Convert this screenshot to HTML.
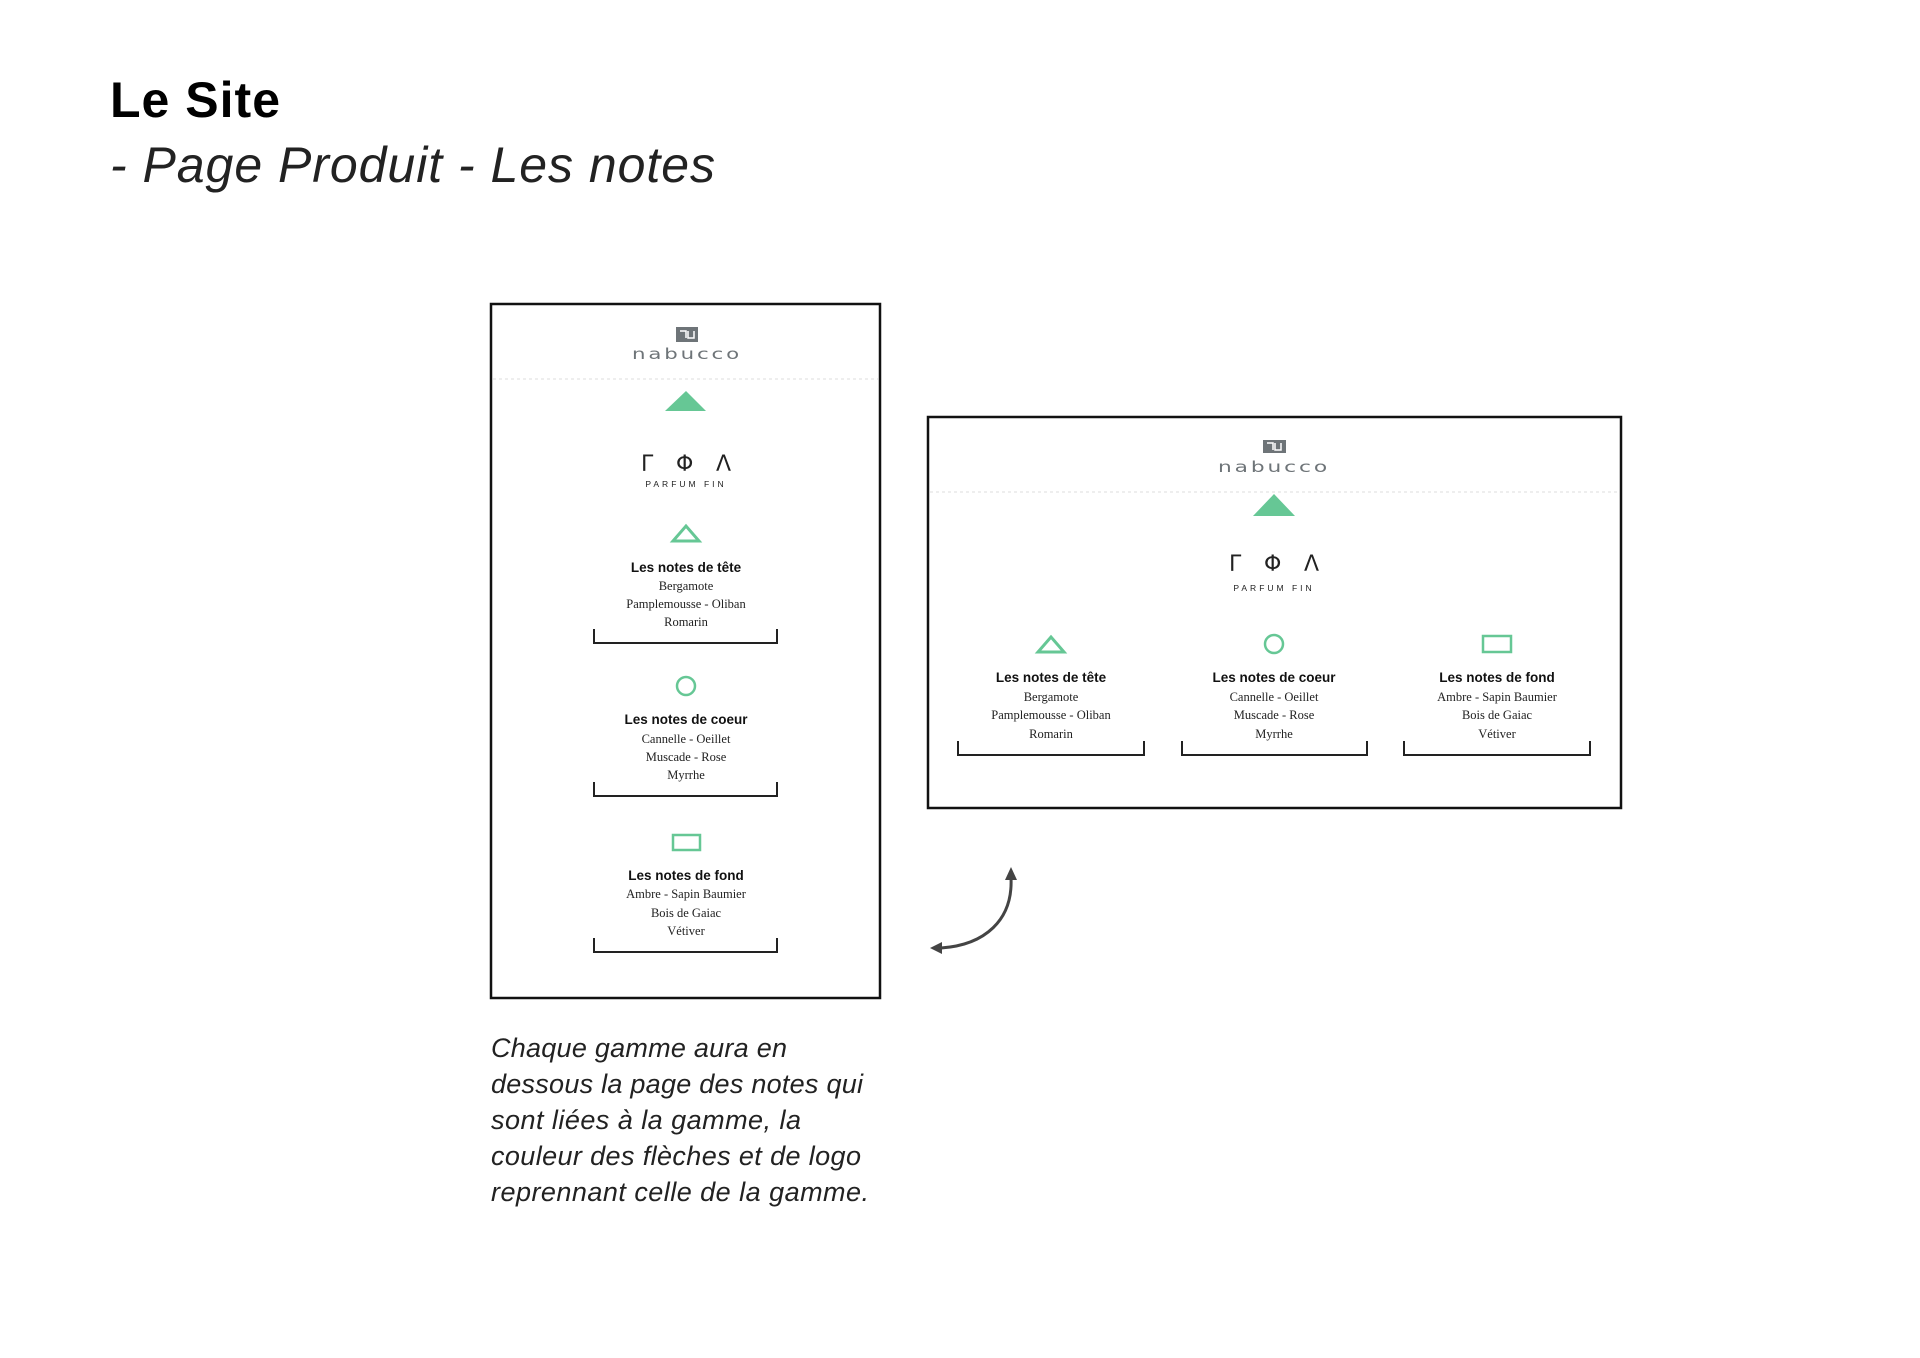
<!DOCTYPE html>
<html><head><meta charset="utf-8"><style>
html,body{margin:0;padding:0;background:#fff}
svg{display:block}
.ser{font-family:"Liberation Serif",serif;font-size:12.5px;fill:#222}
.tt{font-family:"Liberation Sans",sans-serif;font-weight:bold;font-size:13.5px;fill:#111}
.pf{font-family:"Liberation Sans",sans-serif;font-size:8.5px;letter-spacing:3px;fill:#222}
.gr{font-family:"DejaVu Sans",sans-serif;font-size:22px;fill:#222}
.nb{font-family:"DejaVu Sans",sans-serif;font-size:15px;fill:#6e7478;letter-spacing:2px}
.it{font-family:"Liberation Sans",sans-serif;font-style:italic;font-size:27px;fill:#222}
</style></head><body>
<svg width="1920" height="1358" viewBox="0 0 1920 1358" xmlns="http://www.w3.org/2000/svg">
<text x="110" y="117" font-family="Liberation Sans, sans-serif" font-weight="bold" font-size="50" fill="#000" textLength="170">Le Site</text>
<text x="110" y="182" font-family="Liberation Sans, sans-serif" font-style="italic" font-size="50" fill="#222" textLength="605">- Page Produit - Les notes</text>

<!-- LEFT BOX -->
<rect x="491" y="304" width="389" height="694" fill="#fff" stroke="#111" stroke-width="2.5"/>
<line x1="493" y1="379" x2="878" y2="379" stroke="#ddd" stroke-dasharray="3,3"/>
<rect x="676" y="327" width="22" height="15" fill="#6e7478"/>
<path d="M680,331 h6 v7 M688,331 v7 h6 v-7" fill="none" stroke="#fff" stroke-width="1.5"/>
<text x="687" y="359" class="nb" text-anchor="middle" textLength="110" lengthAdjust="spacingAndGlyphs">nabucco</text>
<polygon points="665,411 706,411 686,391" fill="#66c795"/>
<text x="686" y="471" class="gr" text-anchor="middle" textLength="90" lengthAdjust="spacing">Γ Φ Λ</text>
<text x="686" y="487" class="pf" text-anchor="middle">PARFUM FIN</text>

<polygon points="673,541 699,541 686,526" fill="none" stroke="#66c795" stroke-width="3"/>
<text x="686" y="572" class="tt" text-anchor="middle">Les notes de tête</text>
<text x="686" y="590" class="ser" text-anchor="middle">Bergamote</text>
<text x="686" y="608" class="ser" text-anchor="middle">Pamplemousse - Oliban</text>
<text x="686" y="626" class="ser" text-anchor="middle">Romarin</text>
<polyline points="594,629 594,643 777,643 777,629" fill="none" stroke="#222" stroke-width="2"/>

<circle cx="686" cy="686" r="9" fill="none" stroke="#66c795" stroke-width="2.5"/>
<text x="686" y="724" class="tt" text-anchor="middle">Les notes de coeur</text>
<text x="686" y="743" class="ser" text-anchor="middle">Cannelle - Oeillet</text>
<text x="686" y="761" class="ser" text-anchor="middle">Muscade - Rose</text>
<text x="686" y="779" class="ser" text-anchor="middle">Myrrhe</text>
<polyline points="594,782 594,796 777,796 777,782" fill="none" stroke="#222" stroke-width="2"/>

<rect x="673" y="835" width="27" height="15" fill="none" stroke="#66c795" stroke-width="2.5"/>
<text x="686" y="880" class="tt" text-anchor="middle">Les notes de fond</text>
<text x="686" y="898" class="ser" text-anchor="middle">Ambre - Sapin Baumier</text>
<text x="686" y="917" class="ser" text-anchor="middle">Bois de Gaiac</text>
<text x="686" y="935" class="ser" text-anchor="middle">Vétiver</text>
<polyline points="594,938 594,952 777,952 777,938" fill="none" stroke="#222" stroke-width="2"/>

<!-- RIGHT BOX -->
<rect x="928" y="417" width="693" height="391" fill="#fff" stroke="#111" stroke-width="2.5"/>
<line x1="930" y1="492" x2="1619" y2="492" stroke="#ddd" stroke-dasharray="3,3"/>
<rect x="1263" y="440" width="23" height="13" fill="#6e7478"/>
<path d="M1267,443 h6 v7 M1275,443 v7 h6 v-7" fill="none" stroke="#fff" stroke-width="1.5"/>
<text x="1274" y="472" class="nb" text-anchor="middle" textLength="112" lengthAdjust="spacingAndGlyphs">nabucco</text>
<polygon points="1253,516 1295,516 1274,494" fill="#66c795"/>
<text x="1274" y="571" class="gr" text-anchor="middle" textLength="90" lengthAdjust="spacing">Γ Φ Λ</text>
<text x="1274" y="591" class="pf" text-anchor="middle">PARFUM FIN</text>

<polygon points="1038,652 1064,652 1051,637" fill="none" stroke="#66c795" stroke-width="3"/>
<circle cx="1274" cy="644" r="9" fill="none" stroke="#66c795" stroke-width="2.5"/>
<rect x="1483" y="636" width="28" height="16" fill="none" stroke="#66c795" stroke-width="2.5"/>

<text x="1051" y="682" class="tt" text-anchor="middle">Les notes de tête</text>
<text x="1051" y="701" class="ser" text-anchor="middle">Bergamote</text>
<text x="1051" y="719" class="ser" text-anchor="middle">Pamplemousse - Oliban</text>
<text x="1051" y="738" class="ser" text-anchor="middle">Romarin</text>
<polyline points="958,741 958,755 1144,755 1144,741" fill="none" stroke="#222" stroke-width="2"/>

<text x="1274" y="682" class="tt" text-anchor="middle">Les notes de coeur</text>
<text x="1274" y="701" class="ser" text-anchor="middle">Cannelle - Oeillet</text>
<text x="1274" y="719" class="ser" text-anchor="middle">Muscade - Rose</text>
<text x="1274" y="738" class="ser" text-anchor="middle">Myrrhe</text>
<polyline points="1182,741 1182,755 1367,755 1367,741" fill="none" stroke="#222" stroke-width="2"/>

<text x="1497" y="682" class="tt" text-anchor="middle">Les notes de fond</text>
<text x="1497" y="701" class="ser" text-anchor="middle">Ambre - Sapin Baumier</text>
<text x="1497" y="719" class="ser" text-anchor="middle">Bois de Gaiac</text>
<text x="1497" y="738" class="ser" text-anchor="middle">Vétiver</text>
<polyline points="1404,741 1404,755 1590,755 1590,741" fill="none" stroke="#222" stroke-width="2"/>

<!-- ARROW -->
<path d="M1011,878 C1013,920 985,945 941,948" fill="none" stroke="#444" stroke-width="3"/>
<polygon points="1011,867 1005,880 1017,880" fill="#444"/>
<polygon points="930,948 942,942 942,954" fill="#444"/>

<text class="it" x="491" y="1057" textLength="296">Chaque gamme aura en</text>
<text class="it" x="491" y="1093" textLength="372">dessous la page des notes qui</text>
<text class="it" x="491" y="1129" textLength="310">sont liées à la gamme, la</text>
<text class="it" x="491" y="1165" textLength="370">couleur des flèches et de logo</text>
<text class="it" x="491" y="1201" textLength="378">reprennant celle de la gamme.</text>
</svg>
</body></html>
